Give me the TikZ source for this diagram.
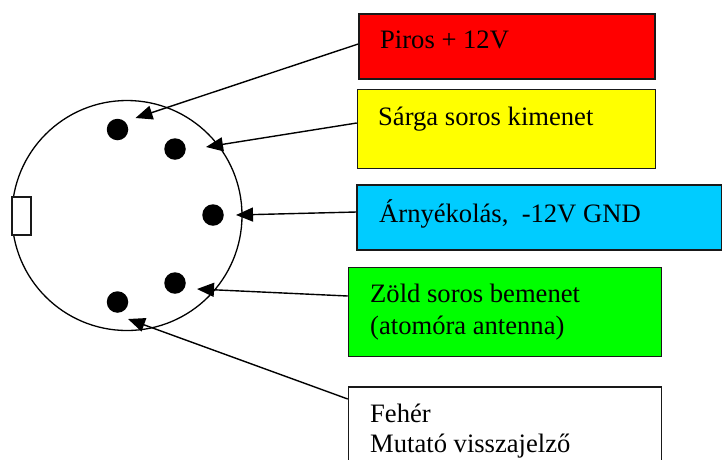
\documentclass[tikz,border=0pt]{standalone}
\usepackage{fontspec}
\setmainfont{Liberation Serif}
\usetikzlibrary{arrows.meta}
\definecolor{cred}{RGB}{255,0,0}
\definecolor{cyel}{RGB}{255,255,0}
\definecolor{ccya}{RGB}{0,204,255}
\definecolor{cgre}{RGB}{0,255,0}
\tikzset{
  box/.style={draw=black!90,line width=1.5pt,inner sep=0pt},
  lab/.style={anchor=base west,font=\fontsize{26.6}{30}\selectfont,inner sep=0pt,align=left},
  pin/.style={circle,fill=black,inner sep=0pt,minimum size=21.5},
  conn/.style={draw=black,line width=1.4pt,-{Stealth[inset=0pt,length=17pt,width=14pt]}}
}
\begin{document}
\begin{tikzpicture}[x=1pt,y=-1pt]
\useasboundingbox (0,0) rectangle (722,459);
\clip (0,0) rectangle (722,459);
\draw[line width=1.3pt,fill=white] (127,215.5) circle (115);
\node[box,line width=1.2pt,fill=white,minimum width=19,minimum height=38] (key) at (21.5,216) {};
\node[pin] (p1) at (117.5,129.5) {};
\node[pin] (p2) at (175,149) {};
\node[pin] (p3) at (213,215) {};
\node[pin] (p4) at (175,283) {};
\node[pin] (p5) at (117.5,302) {};
\coordinate (t1) at (135.5,118);
\coordinate (t2) at (206,147);
\coordinate (t3) at (236,215);
\coordinate (t4) at (197,289);
\coordinate (t5) at (128,319);
\node[box,fill=cred,minimum width=296,minimum height=65] (b1) at (507,46.5) {};
\node[box,fill=cyel,minimum width=298,minimum height=79] (b2) at (506.5,129) {};
\node[box,fill=ccya,minimum width=365,minimum height=65] (b3) at (539.5,217.5) {};
\node[box,fill=cgre,minimum width=313,minimum height=89] (b4) at (505,312) {};
\node[box,fill=white,minimum width=313,minimum height=90] (b5) at (505,432) {};
\node[lab] (l1) at (380,48) {Piros + 12V};
\node[lab] (l2) at (378,125) {Sárga soros kimenet};
\node[lab] (l3) at (379,222) {Árnyékolás,\ \ -12V GND};
\node[lab] (l4) at (370,302) {Zöld soros bemenet};
\node[lab] (l4b) at (370,334) {(atomóra antenna)};
\node[lab] (l5) at (370,422) {Fehér};
\node[lab] (l5b) at (370,452) {Mutató visszajelző};
\draw[conn] (b1.west|-0,44) -- (t1);
\draw[conn] (b2.west|-0,123) -- (t2);
\draw[conn] (b3.west|-0,212) -- (t3);
\draw[conn] (b4.west|-0,296) -- (t4);
\draw[conn] (b5.west|-0,399) -- (t5);
\end{tikzpicture}
\end{document}
